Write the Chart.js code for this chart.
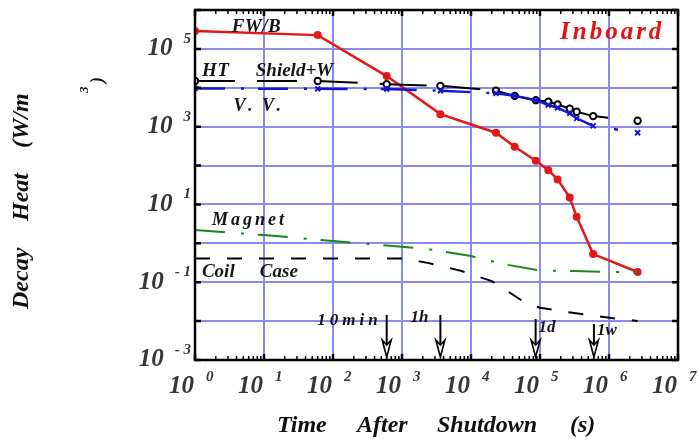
<!DOCTYPE html>
<html>
<head>
<meta charset="utf-8">
<title>Decay Heat - Inboard</title>
<script src="https://cdn.jsdelivr.net/npm/chart.js@4.4.1/dist/chart.umd.min.js"></script>
<style>
  html, body { margin: 0; padding: 0; background: #fff; }
  #wrap { width: 699px; height: 441px; }
</style>
</head>
<body>
<div id="wrap"><canvas id="decayChart" width="699" height="441"></canvas></div>
<script>
// Decay heat (W/m3) vs time after shutdown (s), inboard components

const fwTimes = [1, 60, 600, 3600, 2.3e4, 4.3e4, 8.7e4, 1.32e5, 1.8e5, 2.7e5, 3.4e5, 5.9e5, 2.6e6];
const fwbHeat = [2.9e5, 2.26e5, 2.0e4, 2.1e3, 700, 304, 133, 76, 44, 15, 4.8, 0.53, 0.183];
const shieldHeat = [1.49e4, 1.49e4, 1.24e4, 1.12e4, 8.4e3, 6.2e3, 4.8e3, 4.37e3, 3.74e3, 2.88e3, 2.41e3, 1.87e3, 1.42e3];
const vvHeat = [9.6e3, 9.4e3, 9.3e3, 8.4e3, 7.2e3, 6.2e3, 4.8e3, 3.6e3, 3.06e3, 2.2e3, 1.63e3, 1.05e3, 697];

const magnetTimes = [1, 10, 100, 1000, 3000, 1e4, 3e4, 1e5, 3e5, 1e6, 2.6e6];
const magnetHeat = [2.2, 1.63, 1.15, 0.82, 0.67, 0.47, 0.29, 0.2, 0.194, 0.183, 0.183];

const coilTimes = [1, 1000, 2450, 7100, 2e4, 3.2e4, 6.2e4, 1e5, 2.6e5, 1.26e6, 2.6e6];
const coilHeat = [0.41, 0.41, 0.31, 0.198, 0.107, 0.063, 0.029, 0.022, 0.017, 0.0115, 0.0101];

// reference times marked with arrows
const markTimes = [600, 3600, 86400, 604800];
const markLabels = ['10min', '1h', '1d', '1w'];

const xTickExps = [0, 1, 2, 3, 4, 5, 6, 7];
const yTickExps = [-3, -1, 1, 3, 5];
const yGridExps = [-3, -2, -1, 0, 1, 2, 3, 4, 5, 6];

const SERIF = '"Liberation Serif", "Times New Roman", serif';
const gridColor = '#8a8af0';

function pts(xs, ys) {
    return xs.map((x, i) => ({ x: x, y: ys[i] }));
}

// draw text one character at a time with extra spacing
function spaced(ctx, text, x, y, gap) {
    let cx = x;
    for (const ch of text) {
        ctx.fillText(ch, cx, y);
        cx += ctx.measureText(ch).width + gap;
    }
    return cx - gap;
}

function spacedWidth(ctx, text, gap) {
    let w = 0;
    for (const ch of text) w += ctx.measureText(ch).width + gap;
    return w - gap;
}

function rotText(ctx, text, x, y) {
    ctx.save();
    ctx.translate(x, y);
    ctx.rotate(-Math.PI / 2);
    ctx.textAlign = 'left';
    ctx.textBaseline = 'alphabetic';
    ctx.fillText(text, 0, 0);
    ctx.restore();
}

const decorPlugin = {
    id: 'decor',
    afterDraw(chart) {
        const ctx = chart.ctx;
        const xs = chart.scales.x;
        const ys = chart.scales.y;
        const a = chart.chartArea;
        ctx.save();

        // frame
        ctx.strokeStyle = '#000';
        ctx.lineWidth = 2.5;
        ctx.strokeRect(a.left, a.top, a.right - a.left, a.bottom - a.top);

        // x ticks, top and bottom, pointing inward
        ctx.lineWidth = 1.5;
        ctx.beginPath();
        for (let d = 0; d < 7; d++) {
            for (let m = 2; m <= 9; m++) {
                const px = xs.getPixelForValue(m * Math.pow(10, d));
                ctx.moveTo(px, a.bottom); ctx.lineTo(px, a.bottom - 4);
                ctx.moveTo(px, a.top); ctx.lineTo(px, a.top + 4);
            }
        }
        ctx.stroke();
        ctx.lineWidth = 2.5;
        ctx.beginPath();
        xTickExps.forEach(e => {
            const px = xs.getPixelForValue(Math.pow(10, e));
            ctx.moveTo(px, a.bottom); ctx.lineTo(px, a.bottom - 6);
            ctx.moveTo(px, a.top); ctx.lineTo(px, a.top + 6);
        });
        yGridExps.forEach(e => {
            const py = ys.getPixelForValue(Math.pow(10, e));
            ctx.moveTo(a.left, py); ctx.lineTo(a.left + 6, py);
            ctx.moveTo(a.right, py); ctx.lineTo(a.right - 6, py);
        });
        ctx.stroke();

        // tick labels
        ctx.fillStyle = '#363636';
        ctx.textBaseline = 'alphabetic';
        xTickExps.forEach(e => {
            const px = xs.getPixelForValue(Math.pow(10, e));
            ctx.font = 'italic bold 25px ' + SERIF;
            ctx.textAlign = 'right';
            ctx.fillText('10', px - 1, 393);
            ctx.font = 'italic bold 15px ' + SERIF;
            ctx.textAlign = 'left';
            ctx.fillText(String(e), px + 11, 381);
        });
        ctx.textBaseline = 'middle';
        yTickExps.forEach(e => {
            const py = ys.getPixelForValue(Math.pow(10, e));
            const exp = e < 0 ? '- ' + Math.abs(e) : String(e);
            ctx.font = 'italic bold 15px ' + SERIF;
            ctx.textAlign = 'right';
            ctx.fillText(exp, 191, py - 10);
            const ew = ctx.measureText(exp).width;
            ctx.font = 'italic bold 25px ' + SERIF;
            ctx.fillText('10', 191 - ew - 11, py);
        });

        // axis titles
        ctx.fillStyle = '#111';
        ctx.font = 'italic bold 24px ' + SERIF;
        ctx.textAlign = 'left';
        ctx.textBaseline = 'alphabetic';
        ctx.fillText('Time', 277, 432);
        ctx.fillText('After', 357, 432);
        ctx.fillText('Shutdown', 437, 432);
        ctx.fillText('(s)', 570, 432);

        rotText(ctx, 'Decay', 28, 309);
        rotText(ctx, 'Heat', 28, 221);
        rotText(ctx, '(W/m', 28, 148);
        ctx.font = 'italic bold 13px ' + SERIF;
        rotText(ctx, '3', 88, 93);
        ctx.font = 'italic bold 18px ' + SERIF;
        rotText(ctx, ')', 103, 83);

        // curve labels
        const lab = (text, t, v, size, gap) => {
            ctx.font = 'italic bold ' + size + 'px ' + SERIF;
            ctx.textAlign = 'left';
            ctx.textBaseline = 'middle';
            spaced(ctx, text, xs.getPixelForValue(t), ys.getPixelForValue(v), gap);
        };
        ctx.fillStyle = '#151515';
        lab('FW/B', 3.4, 3.6e5, 19, 0.5);
        lab('HT', 1.26, 2.7e4, 19, 0.5);
        lab('Shield+W', 7.6, 2.7e4, 19, 0);
        lab('V. V.', 3.6, 3.4e3, 18, 2.5);
        lab('Magnet', 1.76, 4.0, 18, 3);
        lab('Coil', 1.26, 0.185, 19, 0);
        lab('Case', 8.7, 0.185, 19, 0);

        ctx.fillStyle = '#e01414';
        lab('Inboard', 1.95e5, 2.7e5, 25, 3);

        // time markers
        const markTop = [0.0144, 0.0144, 0.0113, 0.0084];
        ctx.strokeStyle = '#000';
        markTimes.forEach((t, i) => {
            const px = xs.getPixelForValue(t);
            const top = ys.getPixelForValue(markTop[i]);
            const tip = a.bottom - 3;
            ctx.lineWidth = 2;
            ctx.beginPath();
            ctx.moveTo(px, top);
            ctx.lineTo(px, tip - 12);
            ctx.stroke();
            ctx.lineWidth = 1.6;
            ctx.beginPath();
            ctx.moveTo(px - 4.5, tip - 17);
            ctx.lineTo(px, tip);
            ctx.lineTo(px + 4.5, tip - 17);
            ctx.lineTo(px, tip - 12);
            ctx.closePath();
            ctx.fillStyle = '#fff';
            ctx.fill();
            ctx.stroke();

            ctx.fillStyle = '#151515';
            ctx.font = 'italic bold 17px ' + SERIF;
            ctx.textBaseline = 'middle';
            ctx.textAlign = 'left';
            const text = markLabels[i];
            if (i === 0) {
                const w = spacedWidth(ctx, text, 4);
                spaced(ctx, text, px - 9 - w, 321, 4);
            } else if (i === 1) {
                const w = spacedWidth(ctx, text, 0);
                spaced(ctx, text, px - 12 - w, 318, 0);
            } else {
                spaced(ctx, text, px + 3, i === 2 ? 328 : 331, 0);
            }
        });

        ctx.restore();
    }
};

// each segment is stroked on its own so the dash pattern restarts at every point;
// the final segment of these two curves is only sketched
const lastSeg = fwTimes.length - 2;
const shieldSegment = {
    borderDashOffset: c => c.p0DataIndex * 1e-6,
    borderDash: c => c.p0DataIndex === lastSeg ? [15, 60] : [40, 22]
};
const vvSegment = {
    borderDashOffset: c => c.p0DataIndex * 1e-6,
    borderDash: c => c.p0DataIndex === lastSeg ? [0, 21, 4, 60] : [30, 16, 3, 14]
};

const decadeTicks = (exps) => (axis) => {
    axis.ticks = exps.map(e => ({ value: Math.pow(10, e) }));
};

const chart = new Chart(document.getElementById('decayChart'), {
    type: 'line',
    data: {
        datasets: [
            {
                label: 'Magnet',
                data: pts(magnetTimes, magnetHeat),
                borderColor: '#168a16',
                borderWidth: 2,
                borderDash: [30, 16, 3, 14],
                pointRadius: 0,
                fill: false
            },
            {
                label: 'Coil Case',
                data: pts(coilTimes, coilHeat),
                borderColor: '#000',
                borderWidth: 2,
                borderDash: [15, 17],
                pointRadius: 0,
                fill: false
            },
            {
                label: 'V.V.',
                data: pts(fwTimes, vvHeat),
                borderColor: '#1414d2',
                borderWidth: 2.5,
                borderDash: [30, 16, 3, 14],
                segment: vvSegment,
                pointStyle: 'crossRot',
                pointRadius: 3.5,
                pointBorderWidth: 2,
                pointBorderColor: '#1414d2',
                fill: false
            },
            {
                label: 'HT / Shield+W',
                data: pts(fwTimes, shieldHeat),
                borderColor: '#000',
                borderWidth: 2,
                borderDash: [40, 22],
                segment: shieldSegment,
                pointStyle: 'circle',
                pointRadius: 3.2,
                pointBorderWidth: 2,
                pointBorderColor: '#000',
                pointBackgroundColor: '#fff',
                fill: false
            },
            {
                label: 'FW/B',
                data: pts(fwTimes, fwbHeat),
                borderColor: '#e41616',
                borderWidth: 2.5,
                pointStyle: 'circle',
                pointRadius: 4,
                pointBorderWidth: 0,
                pointBackgroundColor: '#e41616',
                fill: false
            }
        ]
    },
    options: {
        responsive: false,
        animation: false,
        events: [],
        layout: { padding: { left: 195, top: 10, right: 21, bottom: 81 } },
        plugins: {
            legend: { display: false },
            tooltip: { enabled: false }
        },
        elements: { line: { tension: 0 } },
        scales: {
            x: {
                type: 'logarithmic',
                min: 1,
                max: 1e7,
                afterBuildTicks: decadeTicks(xTickExps),
                ticks: { display: false },
                grid: { color: gridColor, lineWidth: 2, drawTicks: false },
                border: { display: false }
            },
            y: {
                type: 'logarithmic',
                min: 1e-3,
                max: 1e6,
                afterBuildTicks: decadeTicks(yGridExps),
                ticks: { display: false },
                grid: { color: gridColor, lineWidth: 2, drawTicks: false },
                border: { display: false }
            }
        }
    },
    plugins: [decorPlugin]
});
</script>
</body>
</html>
